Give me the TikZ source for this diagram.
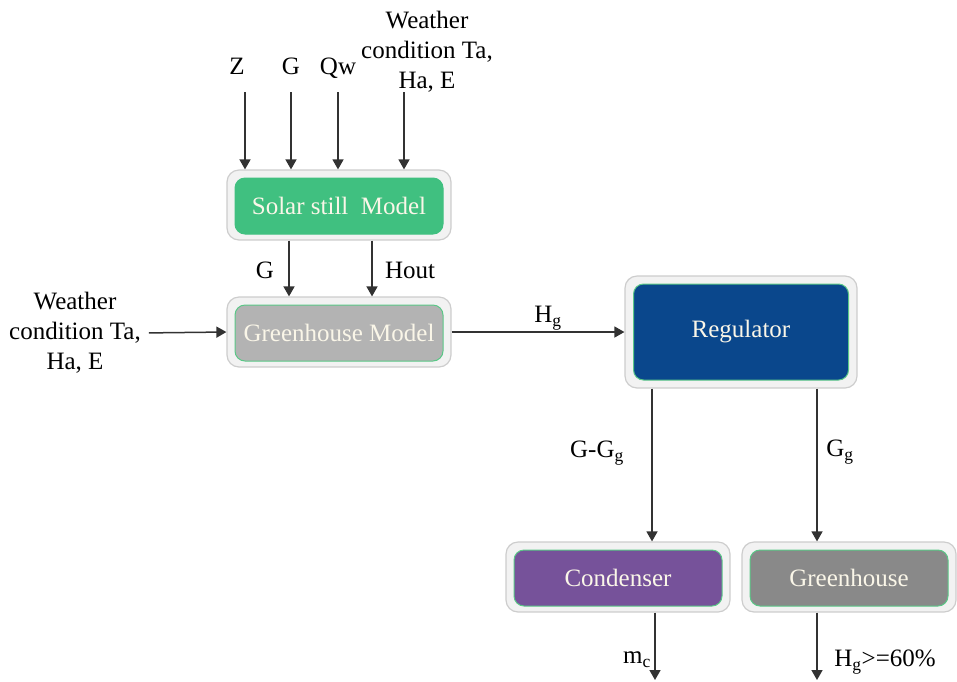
\documentclass[tikz,border=0pt]{standalone}
\usepackage{fontspec}
\setmainfont{Liberation Serif}
\usetikzlibrary{positioning,arrows.meta}

\definecolor{stillgreen}{RGB}{64,192,128}
\definecolor{modelgray}{RGB}{179,179,179}
\definecolor{regblue}{RGB}{10,71,140}
\definecolor{condpurple}{RGB}{118,82,154}
\definecolor{housegray}{RGB}{137,137,137}
\definecolor{edgegreen}{RGB}{90,200,135}
\definecolor{shellfill}{RGB}{242,242,242}
\definecolor{shellline}{RGB}{205,205,205}
\definecolor{flowline}{RGB}{50,50,50}
\definecolor{boxtext}{RGB}{250,246,232}

\begin{document}
\begin{tikzpicture}[x=1pt, y=-1pt,
    every node/.style={font=\fontsize{25}{30}\selectfont},
    shell/.style={draw=shellline, line width=1.2pt, fill=shellfill, rounded corners=12pt, inner sep=0pt, minimum width=224pt, minimum height=70pt},
    block/.style={draw=edgegreen, line width=1pt, rounded corners=10pt, text=boxtext, inner sep=0pt, minimum width=208pt, minimum height=56pt},
    flow/.style={draw=flowline, line width=1.5pt, -{Triangle[length=10pt,width=11pt]}},
    lbl/.style={text=black, inner sep=0pt, align=center}
]
\useasboundingbox (0,0) rectangle (957,681);

% boxes
\node[shell] (ssshell) at (339,205) {};
\node[block, fill=stillgreen, draw=stillgreen] (ss) at (339,206) {Solar still\ \ Model};
\node[shell] (gmshell) at (339,332) {};
\node[block, fill=modelgray] (gm) at (339,333) {Greenhouse Model};
\node[shell, minimum width=232pt, minimum height=112pt] (regshell) at (741,332) {};
\node[block, fill=regblue, minimum width=215pt, minimum height=96pt] (reg) at (741,332) {Regulator};
\node[shell] (condshell) at (618,577) {};
\node[block, fill=condpurple] (cond) at (618,578) {Condenser};
\node[shell, minimum width=214pt] (ghshell) at (849,577) {};
\node[block, fill=housegray, minimum width=198pt] (gh) at (849,578) {Greenhouse};

% inputs of the still
\node[lbl] (zlbl) at (237,66) {Z};
\node[lbl] (glbl) at (291,66) {G};
\node[lbl] (qwlbl) at (338,68) {Qw};
\node[lbl] (wtop) at (427,52) {Weather\\condition Ta,\\Ha, E};
\coordinate (zin) at (245,92);
\coordinate (gin) at (291,92);
\coordinate (qwin) at (338,92);
\coordinate (win) at (404,92);
\foreach \c in {zin,gin,qwin,win}
    \draw[flow] (\c) -- (\c |- ssshell.north);

% still -> greenhouse model
\coordinate (gdown) at ([xshift=-50pt]ssshell.south);
\coordinate (hdown) at ([xshift=33pt]ssshell.south);
\draw[flow] (gdown) -- (gdown |- gmshell.north);
\draw[flow] (hdown) -- (hdown |- gmshell.north);
\node[lbl] (glbl2) at (265,270) {G};
\node[lbl] (houtlbl) at (410,270) {Hout};

% weather into greenhouse model
\node[lbl] (wleft) at (75,333) {Weather\\condition Ta,\\Ha, E};
\draw[flow, shorten <=8pt] (wleft.east) -- (gmshell.west);

% model -> regulator
\draw[flow] (gmshell.east) -- (regshell.west);
\node[lbl] (hglbl) at (548,318) {H\textsubscript{g}};

% regulator -> outputs
\coordinate (rleft) at ([xshift=-89pt]regshell.south);
\coordinate (rright) at ([xshift=76pt]regshell.south);
\draw[flow] (rleft) -- (rleft |- condshell.north);
\draw[flow] (rright) -- (rright |- ghshell.north);
\node[lbl] (gglbl) at (597,453) {G-G\textsubscript{g}};
\node[lbl] (gglbl2) at (840,452) {G\textsubscript{g}};

% final outputs
\coordinate (mcend) at (655,680);
\coordinate (hgend) at (817,680);
\draw[flow] (mcend |- condshell.south) -- (mcend);
\draw[flow] (hgend |- ghshell.south) -- (hgend);
\node[lbl] (mclbl) at (637,660) {m\textsubscript{c}};
\node[lbl] (hglbl2) at (885,662) {H\textsubscript{g}>=60\%};
\end{tikzpicture}
\end{document}
